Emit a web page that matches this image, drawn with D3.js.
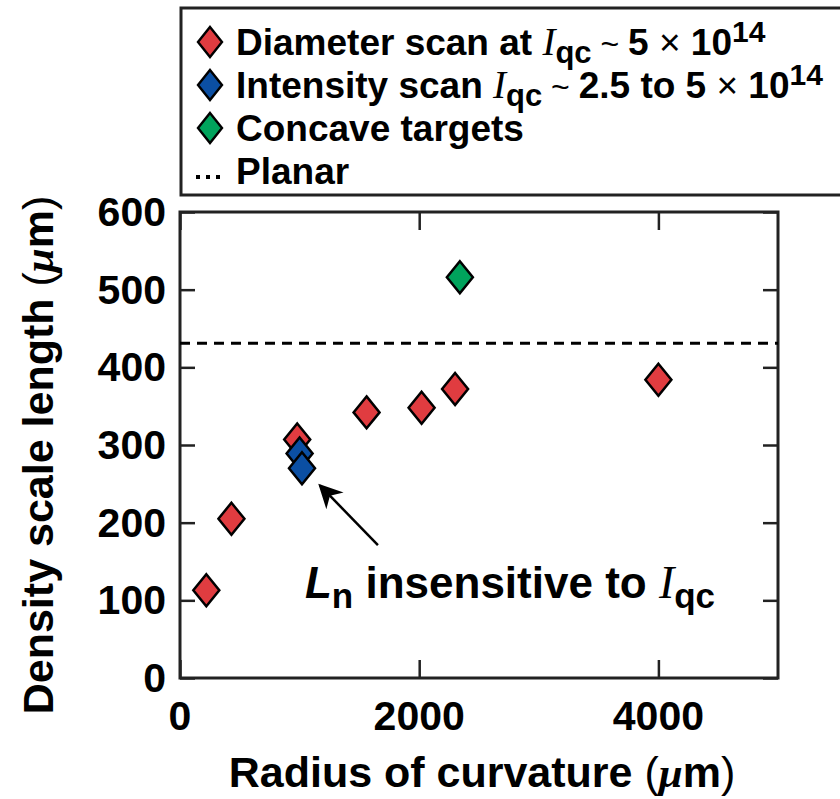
<!DOCTYPE html>
<html>
<head>
<meta charset="utf-8">
<script src="https://cdn.jsdelivr.net/npm/d3@7"></script>
<style>
  body { margin: 0; background: #fff; }
  svg { display: block; font-family: "Liberation Sans", Arial, sans-serif; font-weight: bold; }
</style>
</head>
<body>
<div id="chart"></div>
<script>
// data
const diameterX = [220, 430, 980, 1560, 2020, 2300, 4000];
const diameterY = [113, 205, 307, 342, 348, 372, 384];
const intensityX = [1000, 1020];
const intensityY = [289, 270];
const concaveX = [2340];
const concaveY = [516];
const planarY = 431;
const xTicks = [0, 2000, 4000];
const yTicks = [0, 100, 200, 300, 400, 500, 600];

const colors = { red: "#e03c40", blue: "#0b4fa3", green: "#00a35c" };

//size
const width = 840;
const height = 799;
const margin = { top: 212, right: 62, bottom: 121, left: 180 };
const innerWidth = width - margin.left - margin.right;
const innerHeight = height - margin.top - margin.bottom;

//scale
const xScale = d3.scaleLinear().domain([0, 5000]).range([0, innerWidth]);
const yScale = d3.scaleLinear().domain([0, 600]).range([innerHeight, 0]);

const svg = d3
  .select("#chart")
  .append("svg")
  .attr("width", width)
  .attr("height", height);

const g = svg
  .append("g")
  .attr("transform", `translate(${margin.left},${margin.top})`);

//axes, ticks pointing inward on all four sides
const axisColor = "#222";
function styleAxis(sel) {
  sel.select(".domain").remove();
  sel.selectAll(".tick line").attr("stroke", axisColor).attr("stroke-width", 2.5);
  sel.selectAll(".tick text").remove();
}
g.append("g")
  .attr("transform", `translate(0,${innerHeight})`)
  .call(d3.axisBottom(xScale).tickValues(xTicks).tickSize(-18))
  .call(styleAxis);
g.append("g")
  .call(d3.axisTop(xScale).tickValues(xTicks).tickSize(-18))
  .call(styleAxis);
g.append("g")
  .call(d3.axisLeft(yScale).tickValues(yTicks).tickSize(-15))
  .call(styleAxis);
g.append("g")
  .attr("transform", `translate(${innerWidth},0)`)
  .call(d3.axisRight(yScale).tickValues(yTicks).tickSize(-15))
  .call(styleAxis);

g.append("rect")
  .attr("width", innerWidth)
  .attr("height", innerHeight)
  .attr("fill", "none")
  .attr("stroke", axisColor)
  .attr("stroke-width", 3);

//tick labels
g.selectAll("text.xlab")
  .data(xTicks)
  .join("text")
  .attr("class", "xlab")
  .attr("x", (d) => xScale(d))
  .attr("y", innerHeight + 52)
  .attr("text-anchor", "middle")
  .attr("font-size", 41)
  .text((d) => d);

g.selectAll("text.ylab")
  .data(yTicks)
  .join("text")
  .attr("class", "ylab")
  .attr("x", -14)
  .attr("y", (d) => yScale(d) + 14)
  .attr("text-anchor", "end")
  .attr("font-size", 41)
  .text((d) => d);

//rich text helper
const serif = "'Liberation Serif', 'Times New Roman', serif";
function rich(sel, parts) {
  parts.forEach((p) => {
    const t = sel.append("tspan").text(p.t);
    if (p.size) t.attr("font-size", p.size);
    if (p.dy) t.attr("dy", p.dy);
    if (p.italic) t.attr("font-style", "italic");
    if (p.serif) t.attr("font-family", serif);
    if (p.normal) t.attr("font-weight", "normal");
  });
}

//axis titles
const xTitle = svg
  .append("text")
  .attr("x", 482)
  .attr("y", 787)
  .attr("text-anchor", "middle")
  .attr("font-size", 43);
rich(xTitle, [
  { t: "Radius of curvature " },
  { t: "(", normal: true },
  { t: "μ", italic: true, serif: true },
  { t: "m" },
  { t: ")", normal: true },
]);

const yTitle = svg
  .append("text")
  .attr("transform", `translate(53,455) rotate(-90)`)
  .attr("text-anchor", "middle")
  .attr("font-size", 43);
rich(yTitle, [
  { t: "Density scale length " },
  { t: "(", normal: true },
  { t: "μ", italic: true, serif: true },
  { t: "m" },
  { t: ")", normal: true },
]);

//planar reference
g.append("line")
  .attr("x1", 0)
  .attr("x2", innerWidth)
  .attr("y1", yScale(planarY))
  .attr("y2", yScale(planarY))
  .attr("stroke", "#000")
  .attr("stroke-width", 3)
  .attr("stroke-dasharray", "10,7");

//points
const diamond = (w, h) => `M0,${-h}L${w},0L0,${h}L${-w},0Z`;
const series = [
  { xs: diameterX, ys: diameterY, color: colors.red },
  { xs: intensityX, ys: intensityY, color: colors.blue },
  { xs: concaveX, ys: concaveY, color: colors.green },
];
series.forEach((s) => {
  g.selectAll(null)
    .data(s.xs.map((x, i) => ({ x, y: s.ys[i] })))
    .join("path")
    .attr("d", diamond(13, 16))
    .attr("transform", (d) => `translate(${xScale(d.x)},${yScale(d.y)})`)
    .attr("fill", s.color)
    .attr("stroke", "#000")
    .attr("stroke-width", 2.5);
});

//annotation
svg.append("defs")
  .append("marker")
  .attr("id", "head")
  .attr("viewBox", "0 0 10 10")
  .attr("refX", 9)
  .attr("refY", 5)
  .attr("markerWidth", 24)
  .attr("markerHeight", 24)
  .attr("markerUnits", "userSpaceOnUse")
  .attr("orient", "auto")
  .append("path")
  .attr("d", "M0,0L10,5L0,10L3,5Z")
  .attr("fill", "#000");

g.append("line")
  .attr("x1", xScale(1655))
  .attr("y1", yScale(171))
  .attr("x2", xScale(1170))
  .attr("y2", yScale(248))
  .attr("stroke", "#000")
  .attr("stroke-width", 2.5)
  .attr("marker-end", "url(#head)");

const note = g
  .append("text")
  .attr("x", xScale(1045))
  .attr("y", yScale(103))
  .attr("font-size", 44);
rich(note, [
  { t: "L", italic: true },
  { t: "n", size: 35, dy: 10 },
  { t: " insensitive to ", dy: -10 },
  { t: "I", italic: true, serif: true, normal: true, size: 46 },
  { t: "qc", size: 35, dy: 10 },
]);

//legend
const legend = svg.append("g");
legend
  .append("rect")
  .attr("x", 181)
  .attr("y", 8)
  .attr("width", 700)
  .attr("height", 187)
  .attr("fill", "none")
  .attr("stroke", axisColor)
  .attr("stroke-width", 3);

const legendRows = [
  {
    color: colors.red,
    parts: [
      { t: "Diameter scan at " },
      { t: "I", italic: true, serif: true, normal: true, size: 39 },
      { t: "qc", size: 31, dy: 8 },
      { t: " ~ ", normal: true, size: 32, dy: -8 },
      { t: "5 " },
      { t: "×", normal: true },
      { t: " 10" },
      { t: "14", size: 30, dy: -13 },
    ],
  },
  {
    color: colors.blue,
    parts: [
      { t: "Intensity scan " },
      { t: "I", italic: true, serif: true, normal: true, size: 39 },
      { t: "qc", size: 31, dy: 8 },
      { t: " ~ ", normal: true, size: 32, dy: -8 },
      { t: "2.5 to 5 " },
      { t: "×", normal: true },
      { t: " 10" },
      { t: "14", size: 30, dy: -13 },
    ],
  },
  { color: colors.green, parts: [{ t: "Concave targets" }] },
  { color: null, parts: [{ t: "Planar" }] },
];

legendRows.forEach((row, i) => {
  const cy = 42 + i * 43;
  if (row.color) {
    legend
      .append("path")
      .attr("d", diamond(12, 15))
      .attr("transform", `translate(210,${cy})`)
      .attr("fill", row.color)
      .attr("stroke", "#000")
      .attr("stroke-width", 2.4);
  } else {
    legend
      .append("line")
      .attr("x1", 196)
      .attr("x2", 226)
      .attr("y1", cy + 6)
      .attr("y2", cy + 6)
      .attr("stroke", "#000")
      .attr("stroke-width", 4)
      .attr("stroke-dasharray", "4,6");
  }
  const t = legend
    .append("text")
    .attr("x", 236)
    .attr("y", cy + 13)
    .attr("font-size", 37);
  rich(t, row.parts);
});
</script>
</body>
</html>
